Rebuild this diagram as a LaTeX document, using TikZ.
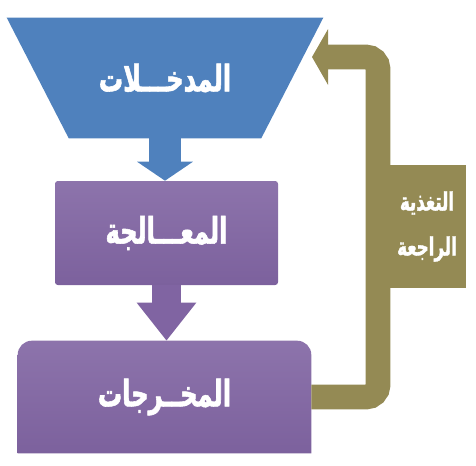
\documentclass[tikz,border=0pt]{standalone}
\usepackage{fontspec}
\newfontfamily\arabicfont[Script=Arabic, FakeStretch=0.66, FakeBold=1.5]{DejaVu Sans}
\TeXXeTstate=1
\usetikzlibrary{arrows.meta,calc,positioning,shapes.geometric,backgrounds}

\definecolor{inblue}{RGB}{79,129,189}
\definecolor{procpurple}{RGB}{128,100,162}
\definecolor{fbolive}{RGB}{148,138,84}

\begin{document}
\begin{tikzpicture}[
    every node/.style={text=white, font=\arabicfont\bfseries\fontsize{26}{30}\selectfont},
    funnel/.style={rectangle, minimum width=4.8cm, minimum height=3cm, inner sep=0pt},
    procbox/.style={rectangle, rounded corners=2pt, minimum width=5.575cm, minimum height=2.6cm,
        top color=procpurple!90!white, bottom color=procpurple!97!black},
    outbox/.style={rectangle, minimum width=7.325cm, minimum height=2.8cm},
    labelbox/.style={rectangle, minimum width=1.95cm, minimum height=3.075cm, align=center, fill=fbolive,
        font=\arabicfont\bfseries\fontsize{18}{32}\selectfont},
    downarrow/.style={draw=#1, line width=0.8cm},
    fbarrow/.style={draw=fbolive, line width=0.62cm, rounded corners=0.3cm,
        -{Triangle[length=0.4cm, width=1.375cm]}}
]
    \useasboundingbox (0,0) rectangle (11.9,11.625);

    \node[funnel] (in) at (4.125,9.675) {\beginR المدخـــلات\endR};
    \node[procbox] (proc) at (4.1625,5.8) {\beginR المعـــالجة\endR};
    \node[outbox] (out) at (4.1125,1.7) {\beginR المخــرجات\endR};
    \begin{scope}[on background layer]
        \fill[inblue] (in.south west) -- (in.south east) -- ($(in.north east)+(1.55,0)$)
            -- ($(in.north west)+(-1.55,0)$) -- cycle;
        \shade[top color=procpurple!90!white, bottom color=procpurple!97!black]
            (out.south west) [rounded corners=0.35cm] -- (out.north west)
            -- (out.north east) [sharp corners] -- (out.south east) -- cycle;
    \end{scope}

    \coordinate (fbtip) at (7.8,10.2);
    \node[labelbox] (fb) at (10.675,5.9625) {\beginR التغذية\endR\\\beginR الراجعة\endR};

    \draw[downarrow=inblue, -{Triangle[length=0.475cm, width=1.375cm]}] (in.south) -- (in.south |- proc.north);
    \draw[downarrow=procpurple, line width=0.725cm, -{Triangle[length=0.95cm, width=1.425cm]}] (proc.south) -- (proc.south |- out.north);
    \draw[fbarrow] (out.east) -- (9.45,1.7) -- (9.45,10.2) -- (fbtip);

\end{tikzpicture}
\end{document}
